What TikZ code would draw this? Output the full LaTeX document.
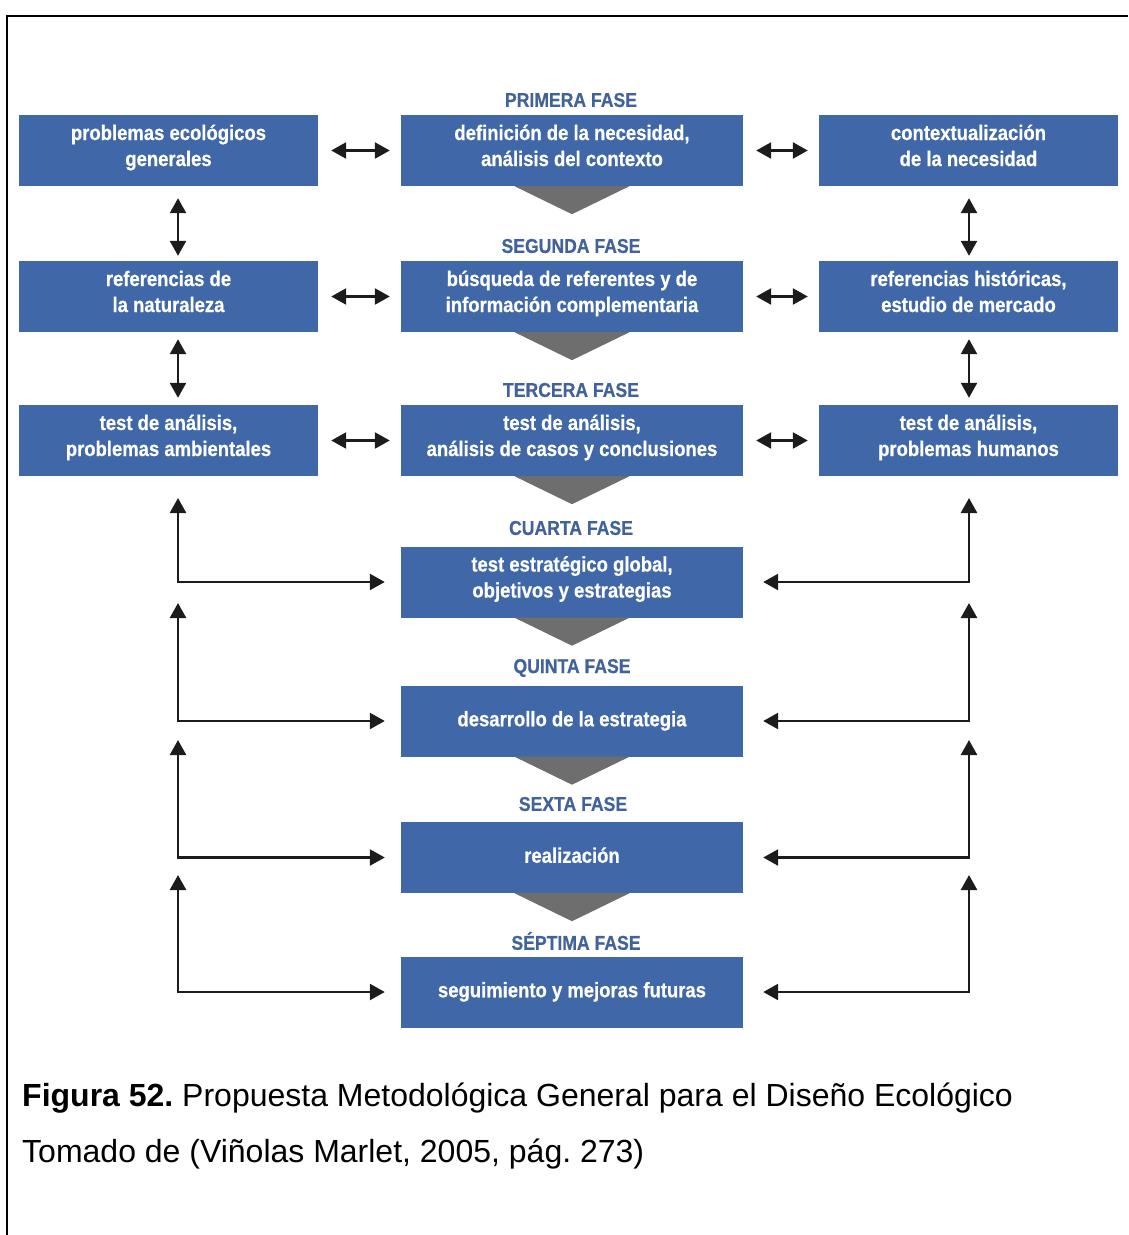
\documentclass[tikz,border=0pt]{standalone}
\usepackage{fontspec}
\setmainfont{Liberation Sans}
\newfontfamily\condfont[FakeStretch=0.88,FakeBold=0.6]{Liberation Sans}
\usetikzlibrary{arrows.meta,calc}
\definecolor{boxblue}{RGB}{64,104,168}
\definecolor{phaseblue}{RGB}{66,98,155}
\definecolor{chevgray}{RGB}{110,110,110}
\definecolor{linkdark}{RGB}{28,28,28}
\frenchspacing

\begin{document}
\begin{tikzpicture}[x=1pt,y=-1pt,
  box/.style={fill=boxblue, text=white, minimum height=71pt, align=center,
    inner sep=0pt, text height=42pt, text depth=11pt,
    font=\condfont\bfseries\fontsize{21}{26}\selectfont},
  oneline/.style={text height=15pt, text depth=4.5pt},
  sidebox/.style={box, minimum width=299pt},
  midbox/.style={box, minimum width=342pt},
  phase/.style={text=phaseblue, inner sep=0pt,
    font=\condfont\bfseries\fontsize{20}{24}\selectfont},
  link/.style={draw=linkdark, line width=2.5pt, {Triangle[length=15pt,width=16pt]}-{Triangle[length=15pt,width=16pt]}},
  frame/.style={draw=black, line width=2.5pt}
]
\useasboundingbox (0,0) rectangle (1128,1235);

% page frame
\draw[frame] (1128,16) -- (7,16) -- (7,1235);

% phase titles
\node[phase] (p1) at (571,100) {PRIMERA FASE};
\node[phase] (p2) at (571,246) {SEGUNDA FASE};
\node[phase] (p3) at (571,390) {TERCERA FASE};
\node[phase] (p4) at (571,528) {CUARTA FASE};
\node[phase] (p5) at (572,668) {QUINTA FASE};
\node[phase] (p6) at (573,804) {SEXTA FASE};
\node[phase] (p7) at (576,941) {SÉPTIMA FASE};

% central column
\node[midbox] (m1) at (572,150.5) {definición de la necesidad,\\análisis del contexto};
\node[midbox] (m2) at (572,296.5) {búsqueda de referentes y de\\información complementaria};
\node[midbox] (m3) at (572,440.5) {test de análisis,\\análisis de casos y conclusiones};
\node[midbox] (m4) at (572,582) {test estratégico global,\\objetivos y estrategias};
\node[midbox, oneline] (m5) at (572,721) {desarrollo de la estrategia};
\node[midbox, oneline] (m6) at (572,857.5) {realización};
\node[midbox, oneline] (m7) at (572,992) {seguimiento y mejoras futuras};

% left column
\node[sidebox] (l1) at (168.5,150.5) {problemas ecológicos\\generales};
\node[sidebox] (l2) at (168.5,296.5) {referencias de\\la naturaleza};
\node[sidebox] (l3) at (168.5,440.5) {test de análisis,\\problemas ambientales};

% right column
\node[sidebox] (r1) at (968.5,150.5) {contextualización\\de la necesidad};
\node[sidebox] (r2) at (968.5,296.5) {referencias históricas,\\estudio de mercado};
\node[sidebox] (r3) at (968.5,440.5) {test de análisis,\\problemas humanos};

% chevrons between phases
\foreach \m in {m1,m2,m3,m4,m5,m6}{
  \fill[chevgray] ($(\m.south)+(-57.5,0)$) -- ($(\m.south)+(57.5,0)$)
    -- ($(\m.south)+(0,28)$) -- cycle;
}

% horizontal two-way links
\foreach \a/\b in {l1/m1,l2/m2,l3/m3,m1/r1,m2/r2,m3/r3}{
  \draw[link, shorten <=13pt, shorten >=11pt] (\a.east) -- (\b.west);
}

% vertical two-way links in the side columns
\draw[link, shorten <=12pt, shorten >=5pt] (l1.south -| 178,0) -- (l2.north -| 178,0);
\draw[link, shorten <=7pt, shorten >=7pt] (l2.south -| 178,0) -- (l3.north -| 178,0);
\draw[link, shorten <=12pt, shorten >=5pt] (r1.south -| 969,0) -- (r2.north -| 969,0);
\draw[link, shorten <=7pt, shorten >=7pt] (r2.south -| 969,0) -- (r3.north -| 969,0);

% feedback links from later phases to the side columns
\coordinate (lt4) at (178,498);
\coordinate (lt5) at (178,603);
\coordinate (lt6) at (178,740);
\coordinate (lt7) at (178,875);
\coordinate (rt4) at (969,498);
\coordinate (rt5) at (969,603);
\coordinate (rt6) at (969,740);
\coordinate (rt7) at (969,875);
\foreach \k in {4,5,6,7}{
  \draw[link, shorten >=16pt] (lt\k) |- (m\k.west);
  \draw[link, shorten >=20pt] (rt\k) |- (m\k.east);
}

% caption
\node[anchor=base west, inner sep=0pt, font=\fontsize{32}{38}\selectfont] (cap1) at (22,1106)
  {\textbf{Figura 52.} Propuesta Metodológica General para el Diseño Ecológico};
\node[anchor=base west, inner sep=0pt, font=\fontsize{32}{38}\selectfont] (cap2) at (22,1162)
  {Tomado de (Viñolas Marlet, 2005, pág. 273)};
\end{tikzpicture}
\end{document}
